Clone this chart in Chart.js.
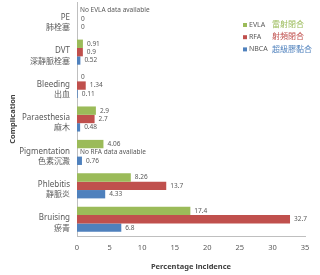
<!DOCTYPE html>
<html>
<head>
<meta charset="utf-8">
<script src="https://cdn.jsdelivr.net/npm/chart.js@4/dist/chart.umd.min.js"></script>
<style>
  html, body { margin: 0; padding: 0; background: #fff; }
  #wrap { width: 320px; height: 275px; }
</style>
</head>
<body>
<div id="wrap"><canvas id="complications"></canvas></div>
<script>
const categories = [
  ['PE', '肺栓塞'],
  ['DVT', '深靜脈栓塞'],
  ['Bleeding', '出血'],
  ['Paraesthesia', '麻木'],
  ['Pigmentation', '色素沉澱'],
  ['Phlebitis', '靜脈炎'],
  ['Bruising', '瘀青']
];
const evla = [null, 0.91, 0, 2.9, 4.06, 8.26, 17.4];
const rfa = [0, 0.9, 1.34, 2.7, null, 13.7, 32.7];
const nbca = [0, 0.52, 0.11, 0.48, 0.76, 4.33, 6.8];
const seriesNames = ['EVLA', 'RFA', 'NBCA'];
const seriesNamesZh = ['雷射閉合', '射頻閉合', '超級膠黏合'];
const xTicks = [0, 5, 10, 15, 20, 25, 30, 35];

const colors = ['#9BBB59', '#C0504D', '#4F81BD'];
const FONT = "'Noto Sans', 'Noto Sans CJK TC', sans-serif";
const GREY = '#595959';

// value labels next to each bar
const barLabels = {
  id: 'barLabels',
  afterDatasetsDraw(chart) {
    const ctx = chart.ctx;
    const x0 = chart.scales.x.getPixelForValue(0);
    ctx.save();
    ctx.font = '6.5px ' + FONT;
    ctx.fillStyle = GREY;
    ctx.textBaseline = 'middle';
    ctx.textAlign = 'left';
    chart.data.datasets.forEach((ds, di) => {
      const meta = chart.getDatasetMeta(di);
      meta.data.forEach((bar, i) => {
        const v = ds.data[i];
        let y = bar.y;
        if (isNaN(y)) {
          const other = chart.getDatasetMeta(1).data[i];
          y = other.y + (di - 1) * (other.height || 8.4);
        }
        if (v === null) {
          ctx.fillText('No ' + seriesNames[di] + ' data available', x0 + 3, y);
        } else {
          ctx.fillText(String(v), (v > 0 ? bar.x : x0) + 4, y);
        }
      });
    });
    ctx.restore();
  }
};

// legend with two-coloured text
const twoToneLegend = {
  id: 'twoToneLegend',
  afterDraw(chart) {
    const ctx = chart.ctx;
    ctx.save();
    ctx.textBaseline = 'middle';
    ctx.textAlign = 'left';
    seriesNames.forEach((name, i) => {
      const y = 25 + i * 12.2;
      ctx.fillStyle = colors[i];
      ctx.fillRect(243, y - 2, 4, 4);
      ctx.font = '7px ' + FONT;
      ctx.fillStyle = GREY;
      ctx.fillText(name, 249, y);
      ctx.font = '8px ' + FONT;
      ctx.fillStyle = colors[i];
      ctx.fillText(seriesNamesZh[i], 272, y);
    });
    ctx.restore();
  }
};

const ctx = document.getElementById('complications').getContext('2d');
const chart = new Chart(ctx, {
  type: 'bar',
  data: {
    labels: categories,
    datasets: [
      { label: seriesNames[0], data: evla, backgroundColor: colors[0] },
      { label: seriesNames[1], data: rfa, backgroundColor: colors[1] },
      { label: seriesNames[2], data: nbca, backgroundColor: colors[2] }
    ]
  },
  options: {
    indexAxis: 'y',
    responsive: true,
    maintainAspectRatio: false,
    animation: false,
    categoryPercentage: 0.75,
    barPercentage: 1,
    layout: { padding: { top: 2, right: 15, left: 0, bottom: 4 } },
    plugins: {
      legend: { display: false },
      tooltip: { enabled: false }
    },
    scales: {
      x: {
        min: 0,
        max: 35,
        afterBuildTicks(scale) { scale.ticks = xTicks.map(v => ({ value: v })); },
        grid: { display: false, drawTicks: false },
        border: { display: true, color: '#bfbfbf' },
        ticks: { color: GREY, font: { family: FONT, size: 7.5 }, padding: 7 },
        title: {
          display: true,
          text: 'Percentage incidence',
          color: '#404040',
          font: { family: FONT, size: 7.5, weight: 'bold' },
          padding: { top: 3, bottom: 0 }
        }
      },
      y: {
        afterFit(scale) {
          scale.width = 77;
          scale.paddingTop = 0;
          scale.paddingBottom = 0;
        },
        grid: { display: false, drawTicks: false },
        border: { display: true, color: '#bfbfbf' },
        ticks: {
          color: GREY,
          font: { family: FONT, size: 8, lineHeight: 1.3 },
          padding: 7,
          labelOffset: 4
        },
        title: {
          display: true,
          text: 'Complication',
          color: '#404040',
          font: { family: FONT, size: 7.5, weight: 'bold' },
          padding: { top: 8, bottom: 0 }
        }
      }
    }
  },
  plugins: [barLabels, twoToneLegend]
});
</script>
</body>
</html>
